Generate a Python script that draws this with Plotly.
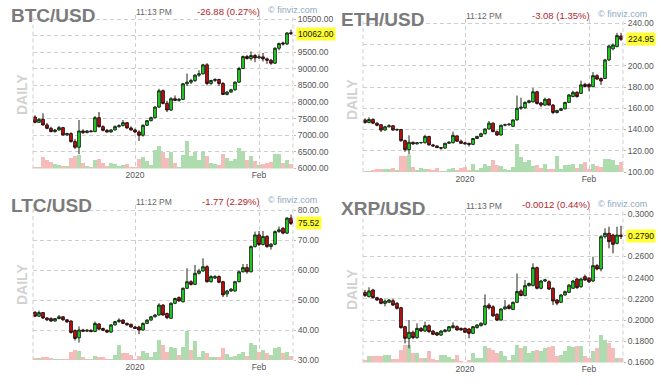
import plotly.graph_objects as go
import pandas as pd

# ---------------- data ----------------
dates = pd.date_range("2019-12-07", "2020-02-09", freq="D")
x_tickvals = ["2020-01-01", "2020-02-01"]
x_ticktext = ["2020", "Feb"]

btc_open = [7550,7390,7480,7310,7210,7110,7160,7230,7010,7050,6810,6640,7130,7080,7130,7110,7530,7260,7150,7100,
            7160,7260,7290,7380,7220,7160,7100,7000,7300,7440,7530,7850,8340,7960,7760,8100,8050,8080,8550,8600,
            8650,8810,8850,9120,8560,8650,8680,8560,8230,8300,8370,8600,9010,9370,9310,9400,9330,9360,9300,9260,
            9170,9620,9780,9750,10089]
btc_high = [7600,7520,7660,7370,7260,7190,7280,7250,7080,7090,6890,7460,7180,7160,7160,7580,7700,7300,7190,7190,
            7300,7330,7460,7400,7270,7200,7150,7330,7460,7560,7870,8400,8380,8040,8150,8200,8120,8580,8860,8700,
            8840,8960,9150,9170,8670,8720,8700,8600,8340,8400,8620,9060,9400,9420,9520,9450,9440,9480,9340,9300,
            9650,9790,9820,10100,10180]
btc_low = [7360,7370,7300,7180,7090,7080,7140,6990,6980,6780,6590,6430,7040,7060,7090,7100,7230,7120,7080,7080,
           7150,7230,7270,7200,7140,7060,6830,6960,7280,7420,7510,7820,7930,7700,7730,8030,8010,8070,8480,8540,
           8600,8760,8830,8500,8520,8600,8480,8210,8200,8280,8340,8580,9000,9280,9250,9200,9300,9220,9150,9120,
           9150,9560,9700,9720,10020]
btc_close = [7390,7480,7310,7210,7110,7160,7230,7010,7050,6810,6640,7130,7080,7130,7110,7530,7260,7150,7100,7160,
             7260,7290,7380,7220,7160,7100,7000,7300,7440,7530,7850,8340,7960,7760,8100,8050,8080,8550,8600,8650,
             8810,8850,9120,8560,8650,8680,8560,8230,8300,8370,8600,9010,9370,9310,9400,9330,9360,9300,9260,9170,
             9620,9760,9750,10080,10062]
btc_vol = [5,5,35,25,21,13,10,8,8,31,38,40,18,8,5,26,30,18,8,18,13,8,11,13,5,3,28,35,23,11,55,68,51,33,51,18,5,40,83,38,
           51,25,50,38,18,13,11,43,33,23,28,61,53,25,38,23,11,15,18,20,45,43,18,25,15]
btc_yticks = [6000, 6500, 7000, 7500, 8000, 8500, 9000, 9500, 10000, 10500]
btc_ylabels = ["6000.00", "6500.00", "7000.00", "7500.00", "8000.00", "8500.00", "9000.00", "9500.00", "", "10500.00"]

eth_open = [149.0,146.5,149.5,146.0,144.5,139.5,142.5,143.5,139.5,140.0,129.5,121.0,128.0,126.5,127.5,127.5,133.5,125.5,124.5,123.0,
            122.5,127.0,127.5,134.0,129.0,127.5,127.0,126.0,131.5,133.5,136.0,140.5,146.0,138.0,134.8,144.0,144.5,143.0,149.0,160.0,
            160.5,165.5,166.0,175.5,165.0,163.0,168.5,163.0,156.0,158.0,159.5,165.5,171.0,175.0,174.0,182.5,182.5,180.3,190.7,188.0,
            188.0,205.5,216.0,218.0,228.03]
eth_high = [150.5,151.5,150.5,146.8,145.0,143.5,145.0,144.0,141.0,140.5,130.5,134.5,128.5,128.0,128.3,135.0,134.0,126.5,125.0,123.5,
            127.5,129.0,138.0,134.5,130.5,128.5,127.5,132.0,134.0,137.0,141.0,148.0,146.5,139.0,144.5,145.5,146.0,149.5,172.0,170.0,
            166.5,168.0,179.0,176.5,166.0,170.0,169.5,164.0,158.5,160.5,166.0,173.5,176.5,176.0,186.0,184.0,183.5,194.0,192.0,189.0,
            206.5,219.5,221.0,231.0,231.0]
eth_low = [145.5,146.0,145.0,143.0,137.5,139.0,142.0,139.0,138.5,128.5,119.0,116.5,125.5,125.8,126.5,127.0,125.0,124.0,122.5,121.0,
           122.0,126.5,127.0,128.5,126.5,126.0,124.0,125.5,131.0,133.0,135.5,140.0,137.5,134.0,134.5,143.0,143.5,142.5,148.5,158.5,
           159.5,164.5,165.5,163.5,161.0,162.5,162.5,154.5,155.0,157.5,159.0,165.0,170.5,170.0,173.5,179.5,176.0,180.0,186.5,182.0,
           187.5,204.5,214.5,217.5,223.5]
eth_close = [146.5,149.5,146.0,144.0,139.5,142.5,143.5,139.5,140.0,129.5,121.0,128.0,126.5,127.5,127.8,133.5,125.5,124.5,123.0,122.5,
             127.0,128.0,134.5,129.0,127.0,126.5,126.0,131.5,133.5,136.0,140.5,146.0,138.0,134.8,144.0,144.5,145.0,149.0,160.0,161.0,
             165.5,167.0,175.5,164.5,163.0,168.5,163.0,156.0,158.0,159.5,165.5,172.5,175.0,171.0,182.0,180.5,180.3,190.7,187.5,185.7,
             205.5,218.6,219.6,228.4,224.95]
eth_vol = [5,4,9,12,11,12,11,15,7,49,49,52,17,7,15,12,12,9,13,5,5,12,15,9,15,17,7,27,7,15,27,21,37,22,19,12,7,17,85,47,
           32,37,19,22,15,27,12,12,49,12,22,24,25,15,27,32,12,27,19,17,42,42,39,24,32]
eth_yticks = [100, 120, 140, 160, 180, 200, 220, 240]
eth_ylabels = ["100.00", "120.00", "140.00", "160.00", "180.00", "200.00", "", "240.00"]

ltc_open = [45.9,44.6,45.8,44.0,43.8,43.0,43.8,44.4,43.4,43.0,39.8,37.4,40.0,39.6,39.9,39.5,42.0,40.5,39.9,39.3,
            41.7,42.8,43.3,42.2,41.9,41.0,41.0,40.0,42.2,43.3,44.4,45.0,48.3,45.5,43.9,48.9,50.8,49.4,53.9,56.1,
            55.2,58.9,59.7,61.1,56.1,57.3,57.8,56.1,52.0,53.0,53.0,56.1,59.4,60.8,59.4,67.8,71.7,68.5,71.2,67.8,
            68.6,72.8,73.9,72.3,77.29]
ltc_high = [46.3,46.5,46.0,44.3,44.2,44.0,45.0,44.6,43.6,43.2,40.2,41.2,40.4,40.3,40.2,42.8,42.3,40.8,40.2,41.9,
            43.0,43.9,43.6,42.5,42.1,41.3,41.4,42.5,43.6,44.7,45.3,48.9,48.6,45.8,49.2,50.8,51.2,54.2,60.6,56.6,
            61.7,60.4,63.9,61.6,58.3,58.3,58.2,56.4,53.4,54.0,56.4,59.8,62.0,62.0,68.2,72.8,73.0,73.0,71.6,69.0,
            73.2,74.5,74.3,77.6,78.5]
ltc_low = [44.3,44.4,43.7,43.0,42.7,42.8,43.6,43.1,42.4,38.8,36.5,35.8,39.3,39.4,39.2,39.3,40.0,39.6,39.0,39.1,
           41.5,42.4,42.0,41.5,40.8,40.3,38.6,39.8,42.0,43.1,44.2,44.8,44.8,43.6,43.7,48.6,49.4,49.2,53.6,54.8,
           55.0,58.5,59.4,55.8,55.8,57.0,55.6,51.0,51.0,52.7,52.8,55.9,59.2,58.8,59.2,67.5,68.0,68.2,67.4,66.8,
           68.3,72.4,71.9,72.0,75.0]
ltc_close = [44.6,45.8,44.0,43.4,43.0,43.8,44.4,43.4,42.7,39.2,37.2,40.0,39.6,39.9,39.5,42.2,40.3,39.9,39.3,41.7,
             42.8,43.3,42.2,41.7,41.0,40.5,40.0,42.2,43.3,44.4,45.0,48.3,45.0,44.1,48.9,50.5,49.7,53.9,56.1,55.2,
             58.9,59.7,61.1,56.1,57.8,57.8,55.9,51.7,53.0,53.6,56.1,59.4,60.8,59.4,67.8,71.7,68.5,71.2,67.8,68.6,
             72.8,73.4,72.3,77.3,75.52]
ltc_vol = [4,4,10,8,5,3,2,2,2,25,30,27,10,3,2,12,10,10,3,3,15,45,20,22,15,3,12,28,20,8,23,60,45,25,38,35,15,38,88,30,
           58,10,28,20,10,8,8,35,18,8,13,18,25,12,50,45,25,30,20,15,35,38,20,25,12]
ltc_yticks = [30, 40, 50, 60, 70, 80]
ltc_ylabels = ["30.00", "40.00", "50.00", "60.00", "70.00", "80.00"]

xrp_open = [0.2262,0.2221,0.2284,0.2212,0.2200,0.2158,0.2168,0.2183,0.2158,0.2117,0.1938,0.1828,0.1885,0.1834,0.1922,0.1897,0.1947,0.1897,0.1881,0.1859,
            0.1891,0.1897,0.1929,0.1938,0.1922,0.1922,0.1916,0.1875,0.1929,0.1947,0.1960,0.2142,0.2125,0.2055,0.2000,0.2105,0.2135,0.2100,0.2168,0.2275,
            0.2231,0.2325,0.2325,0.2495,0.2300,0.2369,0.2362,0.2300,0.2190,0.2168,0.2237,0.2262,0.2300,0.2388,0.2315,0.2410,0.2394,0.2369,0.2514,0.2482,
            0.2787,0.2819,0.2803,0.2724,0.2802]
xrp_high = [0.2285,0.2310,0.2295,0.2220,0.2210,0.2195,0.2200,0.2200,0.2170,0.2125,0.1945,0.2001,0.1900,0.1970,0.1935,0.1985,0.1960,0.1905,0.1890,0.1905,
            0.1915,0.1945,0.1979,0.1950,0.1930,0.1930,0.1925,0.1945,0.1960,0.1980,0.2243,0.2160,0.2140,0.2065,0.2110,0.2190,0.2150,0.2175,0.2440,0.2290,
            0.2378,0.2355,0.2536,0.2505,0.2380,0.2390,0.2375,0.2310,0.2200,0.2245,0.2280,0.2340,0.2380,0.2400,0.2395,0.2430,0.2405,0.2598,0.2530,0.2800,
            0.2866,0.2881,0.2815,0.2881,0.2890]
xrp_low = [0.2220,0.2215,0.2205,0.2180,0.2150,0.2130,0.2160,0.2135,0.2100,0.1920,0.1780,0.1734,0.1820,0.1825,0.1890,0.1890,0.1880,0.1860,0.1850,0.1850,
           0.1885,0.1890,0.1920,0.1900,0.1900,0.1880,0.1828,0.1870,0.1920,0.1940,0.1950,0.2100,0.2030,0.1990,0.1995,0.2100,0.2100,0.2095,0.2160,0.2225,
           0.2225,0.2318,0.2320,0.2290,0.2290,0.2360,0.2285,0.2142,0.2140,0.2160,0.2230,0.2255,0.2295,0.2295,0.2305,0.2370,0.2350,0.2360,0.2470,0.2460,
           0.2770,0.2677,0.2630,0.2715,0.2765]
xrp_close = [0.2231,0.2275,0.2212,0.2190,0.2158,0.2180,0.2190,0.2142,0.2111,0.1929,0.1828,0.1885,0.1834,0.1922,0.1897,0.1947,0.1891,0.1866,0.1859,0.1897,
             0.1907,0.1938,0.1947,0.1907,0.1907,0.1885,0.1875,0.1938,0.1954,0.1970,0.2135,0.2115,0.2040,0.2000,0.2105,0.2125,0.2110,0.2168,0.2270,0.2232,
             0.2325,0.2345,0.2495,0.2300,0.2369,0.2380,0.2293,0.2180,0.2160,0.2237,0.2268,0.2330,0.2369,0.2306,0.2388,0.2378,0.2362,0.2514,0.2482,0.2787,
             0.2819,0.2740,0.2715,0.2803,0.2790]
xrp_vol = [8,20,22,22,22,25,25,12,12,40,55,55,30,30,15,15,35,12,8,25,25,18,12,25,5,3,8,30,15,15,50,45,38,30,35,22,8,25,55,45,
           50,30,35,38,35,45,48,50,20,25,35,50,48,50,52,20,15,35,45,85,70,60,45,15,15]
xrp_yticks = [0.16, 0.18, 0.20, 0.22, 0.24, 0.26, 0.28, 0.30]
xrp_ylabels = ["0.1600", "0.1800", "0.2000", "0.2200", "0.2400", "0.2600", "", "0.3000"]

names = ["BTC/USD", "ETH/USD", "LTC/USD", "XRP/USD"]
times = ["11:13 PM", "11:12 PM", "11:12 PM", "11:13 PM"]
changes = ["-26.88 (0.27%)", "-3.08 (1.35%)", "-1.77 (2.29%)", "-0.0012 (0.44%)"]

# ---------------- styling / layout ----------------
W, H = 661, 385
FONT = "Arial, Liberation Sans, sans-serif"
GRID = "#cfcfcf"
DASH = "4px,3px"
UP_FILL, DN_FILL = "#22e022", "#cc1111"
UP_LINE, DN_LINE = "#1a2a1a", "#2a1010"
UP_VOL, DN_VOL = "#aedcae", "#f6bcbc"

panels = [
    dict(o=btc_open, h=btc_high, l=btc_low, c=btc_close, v=btc_vol, fmt=".2f", tv=btc_yticks, tt=btc_ylabels,
         box=(33, 293, 15, 168.5), yr=[6000, 10621], ox=0, oy=0, dy=0, daily=95),
    dict(o=eth_open, h=eth_high, l=eth_low, c=eth_close, v=eth_vol, fmt=".2f", tv=eth_yticks, tt=eth_ylabels,
         box=(363, 623, 18.5, 172), yr=[100, 244.5], ox=330, oy=0, dy=3.5, daily=100),
    dict(o=ltc_open, h=ltc_high, l=ltc_low, c=ltc_close, v=ltc_vol, fmt=".2f", tv=ltc_yticks, tt=ltc_ylabels,
         box=(33, 293, 205, 360), yr=[30, 81.67], ox=0, oy=190, dy=0, daily=285),
    dict(o=xrp_open, h=xrp_high, l=xrp_low, c=xrp_close, v=xrp_vol, fmt=".4f", tv=xrp_yticks, tt=xrp_ylabels,
         box=(363, 623, 208.5, 362.5), yr=[0.16, 0.3053], ox=330, oy=190, dy=3.5, daily=290),
]

def fx(px):
    return px / W

def fy(py):
    return 1 - py / H

def ax_id(letter, n):
    return letter if n == 1 else f"{letter}{n}"

fig = go.Figure()
layout = dict(width=W, height=H, margin=dict(l=0, r=0, t=0, b=0, autoexpand=False),
              paper_bgcolor="white", plot_bgcolor="white", showlegend=False,
              bargap=0, boxgap=0.05, hovermode=False, font=dict(family=FONT))
annotations, shapes = [], []

for k, p in enumerate(panels):
    xa = ax_id("x", k + 1)
    yv = ax_id("y", 2 * k + 1)
    yp = ax_id("y", 2 * k + 2)
    x0, x1, y0, y1 = p["box"]
    vol_colors = [UP_VOL if c >= o else DN_VOL for o, c in zip(p["o"], p["c"])]
    fig.add_trace(go.Bar(x=dates, y=p["v"], xaxis=xa, yaxis=yv, width=86400000,
                         marker=dict(color=vol_colors, line=dict(width=0)), hoverinfo="skip"))
    fig.add_trace(go.Candlestick(x=dates, open=p["o"], high=p["h"], low=p["l"], close=p["c"],
                                 xaxis=xa, yaxis=yp, whiskerwidth=0,
                                 increasing=dict(fillcolor=UP_FILL, line=dict(color=UP_LINE, width=1)),
                                 decreasing=dict(fillcolor=DN_FILL, line=dict(color=DN_LINE, width=1))))

    layout[xa.replace("x", "xaxis")] = dict(
        domain=[fx(x0), fx(x1)], anchor=yv, type="date", automargin=False,
        range=["2019-12-06 12:00", "2020-02-09 12:00"],
        tickvals=x_tickvals, ticktext=x_ticktext, ticks="",
        showgrid=True, gridcolor=GRID, griddash=DASH, gridwidth=1,
        showline=False, zeroline=False, rangeslider=dict(visible=False),
        tickfont=dict(size=8.5, color="#555555", family=FONT), fixedrange=True)
    layout[yv.replace("y", "yaxis")] = dict(
        domain=[fy(y1), fy(y0)], anchor=xa, range=[0, 3 * (y1 - y0)], automargin=False,
        visible=False, showgrid=False, zeroline=False, fixedrange=True)
    layout[yp.replace("y", "yaxis")] = dict(
        overlaying=yv, anchor=xa, side="right", range=p["yr"], automargin=False,
        tickvals=p["tv"], ticktext=p["tt"],
        showgrid=True, gridcolor=GRID, griddash=DASH, gridwidth=1,
        ticks="outside", ticklen=2, tickcolor="#bbbbbb",
        showline=False, zeroline=False, fixedrange=True,
        tickfont=dict(size=8.5, color="#555555", family=FONT))

    # dashed frame edges (left / right)
    for xe in (0, 1):
        shapes.append(dict(type="line", xref=f"{xa} domain", yref=f"{yv} domain",
                           x0=xe, x1=xe, y0=0, y1=1,
                           line=dict(color=GRID, width=1, dash=DASH)))

    ox, oy, dy = p["ox"], p["oy"], p["dy"]
    annotations.append(dict(xref="paper", yref="paper", x=fx(ox + 9), y=fy(oy + 15.5 + dy),
                            xanchor="left", yanchor="middle", showarrow=False, text=f"<b>{names[k]}</b>",
                            font=dict(size=19, color="#7b7b7b", family=FONT)))
    annotations.append(dict(xref="paper", yref="paper", x=fx(ox + 134), y=fy(oy + 12.3 + dy),
                            xanchor="left", yanchor="middle", showarrow=False, text=times[k],
                            font=dict(size=8.5, color="#666666", family=FONT)))
    annotations.append(dict(xref="paper", yref="paper", x=fx(ox + 262), y=fy(oy + 11.5 + dy),
                            xanchor="right", yanchor="middle", showarrow=False, text=changes[k],
                            font=dict(size=9.5, color="#b0262e", family=FONT)))
    annotations.append(dict(xref="paper", yref="paper", x=fx(ox + 266), y=fy(oy + 10.3 + dy),
                            xanchor="left", yanchor="middle", showarrow=False, text="© finviz.com",
                            font=dict(size=9, color="#8ea7c0", family=FONT)))
    annotations.append(dict(xref="paper", yref="paper", x=fx(ox + 22), y=fy(p["daily"]),
                            xanchor="center", yanchor="middle", showarrow=False, text="<b>DAILY</b>",
                            textangle=-90, font=dict(size=14, color="#d2d2d2", family=FONT)))
    last = p["c"][-1]
    annotations.append(dict(xref="paper", yref=yp, x=fx(x1 + 3), y=last,
                            xanchor="left", yanchor="middle", showarrow=False,
                            text=format(last, p["fmt"]), bgcolor="#ffff33", borderpad=1,
                            font=dict(size=8.5, color="#111111", family=FONT)))

layout["annotations"] = annotations
layout["shapes"] = shapes
fig.update_layout(**layout)
fig.write_html("out.html", config={"displayModeBar": False},
               post_script="document.body.style.margin='0';document.body.style.overflow='hidden';")
